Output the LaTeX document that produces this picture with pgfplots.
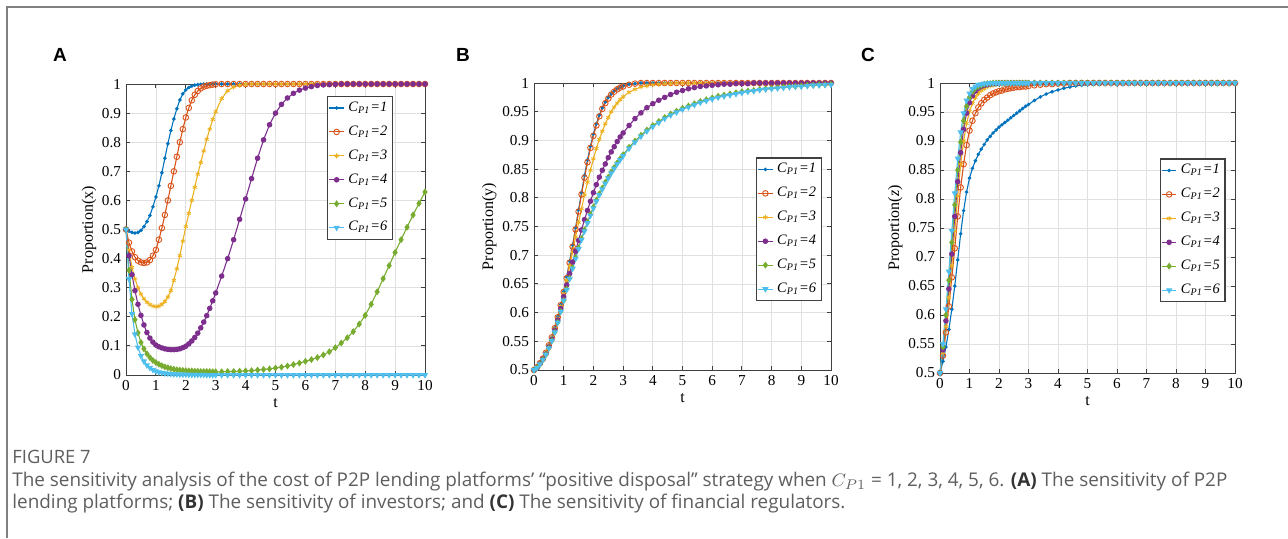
\documentclass[border=0pt]{standalone}
\usepackage{pgfplots}
\usepackage{pgfplotstable}
\pgfplotsset{compat=1.18}
\usepackage{fontspec}
\setmainfont{Liberation Serif}
\newfontfamily\capfont{Open Sans}
\newfontfamily\panelfont{Liberation Sans}

\definecolor{mblue}{rgb}{0,0.447,0.741}
\definecolor{morange}{rgb}{0.85,0.325,0.098}
\definecolor{myellow}{rgb}{0.929,0.694,0.125}
\definecolor{mpurple}{rgb}{0.494,0.184,0.556}
\definecolor{mgreen}{rgb}{0.466,0.674,0.188}
\definecolor{mcyan}{rgb}{0.301,0.745,0.933}
\definecolor{captext}{HTML}{5E5E5E}

% Proportion x of P2P platforms choosing positive disposal
\pgfplotstableread{
t a1 a2 a3 a4 a5 a6
0.0 0.5 0.5 0.5 0.5 0.5 0.5
0.1 0.494 0.455 0.43 0.41 0.36 0.33
0.2 0.49 0.425 0.37 0.345 0.26 0.21
0.3 0.488 0.405 0.33 0.29 0.19 0.14
0.4 0.49 0.393 0.30 0.243 0.145 0.095
0.5 0.497 0.387 0.278 0.205 0.112 0.066
0.6 0.51 0.385 0.262 0.172 0.09 0.047
0.7 0.527 0.387 0.25 0.146 0.073 0.034
0.8 0.548 0.395 0.242 0.127 0.06 0.025
0.9 0.578 0.41 0.237 0.113 0.05 0.018
1.0 0.612 0.43 0.235 0.103 0.043 0.013
1.1 0.65 0.465 0.237 0.097 0.037 0.010
1.2 0.695 0.505 0.243 0.093 0.032 0.008
1.3 0.745 0.55 0.253 0.09 0.028 0.006
1.4 0.795 0.6 0.268 0.088 0.025 0.005
1.5 0.84 0.65 0.29 0.087 0.022 0.004
1.6 0.88 0.70 0.325 0.087 0.02 0.003
1.7 0.915 0.75 0.365 0.088 0.018 0.003
1.8 0.945 0.80 0.41 0.09 0.017 0.002
1.9 0.966 0.845 0.46 0.094 0.016 0.002
2.0 0.98 0.885 0.51 0.099 0.015 0.002
2.1 0.988 0.918 0.555 0.107 0.014 0.001
2.2 0.993 0.944 0.6 0.117 0.014 0.001
2.3 0.996 0.963 0.645 0.129 0.013 0.001
2.4 0.998 0.976 0.69 0.144 0.013 0.001
2.5 0.999 0.985 0.73 0.162 0.012 0.001
2.6 1 0.991 0.77 0.182 0.012 0.001
2.7 1 0.994 0.81 0.204 0.012 0
2.8 1 0.996 0.845 0.229 0.012 0
2.9 1 0.998 0.878 0.255 0.011 0
3.0 1 0.999 0.905 0.282 0.011 0
3.2 1 1 0.95 0.34 0.011 0
3.4 1 1 0.977 0.40 0.012 0
3.6 1 1 0.99 0.465 0.012 0
3.8 1 1 0.996 0.535 0.013 0
4.0 1 1 0.999 0.605 0.014 0
4.2 1 1 1 0.675 0.015 0
4.4 1 1 1 0.745 0.017 0
4.6 1 1 1 0.808 0.019 0
4.8 1 1 1 0.86 0.021 0
5.0 1 1 1 0.9 0.024 0
5.2 1 1 1 0.93 0.027 0
5.4 1 1 1 0.952 0.031 0
5.6 1 1 1 0.968 0.036 0
5.8 1 1 1 0.979 0.041 0
6.0 1 1 1 0.986 0.047 0
6.2 1 1 1 0.991 0.053 0
6.4 1 1 1 0.995 0.06 0
6.6 1 1 1 0.997 0.069 0
6.8 1 1 1 0.998 0.08 0
7.0 1 1 1 0.999 0.094 0
7.2 1 1 1 1 0.11 0
7.4 1 1 1 1 0.128 0
7.6 1 1 1 1 0.149 0
7.8 1 1 1 1 0.175 0
8.0 1 1 1 1 0.205 0
8.2 1 1 1 1 0.243 0
8.4 1 1 1 1 0.286 0
8.6 1 1 1 1 0.331 0
8.8 1 1 1 1 0.376 0
9.0 1 1 1 1 0.421 0
9.2 1 1 1 1 0.465 0
9.4 1 1 1 1 0.508 0
9.6 1 1 1 1 0.55 0
9.8 1 1 1 1 0.59 0
10.0 1 1 1 1 0.629 0
}\tabA

% Proportion y of investors
\pgfplotstableread{
t a1 a2 a3 a4 a5 a6
0.0 0.5 0.5 0.5 0.5 0.5 0.5
0.1 0.505 0.505 0.505 0.504 0.504 0.504
0.2 0.512 0.512 0.512 0.511 0.51 0.51
0.3 0.52 0.52 0.52 0.519 0.518 0.518
0.4 0.53 0.53 0.53 0.528 0.527 0.527
0.5 0.543 0.543 0.542 0.54 0.538 0.538
0.6 0.557 0.557 0.556 0.553 0.551 0.551
0.7 0.574 0.573 0.572 0.569 0.566 0.566
0.8 0.593 0.592 0.59 0.587 0.583 0.583
0.9 0.614 0.613 0.611 0.607 0.602 0.602
1.0 0.637 0.636 0.633 0.628 0.621 0.621
1.1 0.662 0.66 0.656 0.648 0.641 0.64
1.2 0.69 0.687 0.681 0.668 0.66 0.659
1.3 0.718 0.715 0.706 0.688 0.678 0.677
1.4 0.748 0.745 0.732 0.707 0.696 0.694
1.5 0.779 0.776 0.757 0.726 0.713 0.711
1.6 0.809 0.806 0.781 0.744 0.729 0.727
1.7 0.839 0.835 0.805 0.762 0.744 0.742
1.8 0.866 0.862 0.827 0.778 0.758 0.756
1.9 0.89 0.887 0.848 0.794 0.771 0.769
2.0 0.911 0.908 0.868 0.809 0.784 0.782
2.1 0.929 0.926 0.886 0.823 0.796 0.794
2.2 0.944 0.942 0.902 0.836 0.807 0.805
2.3 0.957 0.955 0.916 0.848 0.817 0.815
2.4 0.967 0.965 0.929 0.859 0.827 0.825
2.5 0.975 0.973 0.94 0.87 0.836 0.834
2.6 0.981 0.98 0.95 0.88 0.845 0.843
2.7 0.986 0.985 0.958 0.889 0.853 0.851
2.8 0.99 0.989 0.965 0.898 0.861 0.859
2.9 0.993 0.992 0.971 0.906 0.868 0.866
3.0 0.995 0.994 0.976 0.913 0.875 0.873
3.2 0.998 0.997 0.984 0.926 0.888 0.886
3.4 0.999 0.999 0.989 0.938 0.899 0.897
3.6 1 1 0.993 0.948 0.909 0.907
3.8 1 1 0.995 0.957 0.918 0.916
4.0 1 1 0.997 0.964 0.926 0.924
4.2 1 1 0.998 0.97 0.933 0.931
4.4 1 1 0.999 0.975 0.94 0.938
4.6 1 1 0.999 0.98 0.946 0.944
4.8 1 1 1 0.984 0.951 0.949
5.0 1 1 1 0.987 0.956 0.954
5.2 1 1 1 0.99 0.96 0.958
5.4 1 1 1 0.992 0.964 0.962
5.6 1 1 1 0.994 0.968 0.966
5.8 1 1 1 0.995 0.971 0.969
6.0 1 1 1 0.996 0.974 0.972
6.2 1 1 1 0.997 0.977 0.975
6.4 1 1 1 0.998 0.979 0.977
6.6 1 1 1 0.998 0.981 0.979
6.8 1 1 1 0.999 0.983 0.981
7.0 1 1 1 0.999 0.985 0.983
7.2 1 1 1 0.999 0.986 0.985
7.4 1 1 1 1 0.987 0.986
7.6 1 1 1 1 0.989 0.988
7.8 1 1 1 1 0.99 0.989
8.0 1 1 1 1 0.991 0.99
8.2 1 1 1 1 0.992 0.991
8.4 1 1 1 1 0.993 0.992
8.6 1 1 1 1 0.994 0.993
8.8 1 1 1 1 0.994 0.994
9.0 1 1 1 1 0.995 0.994
9.2 1 1 1 1 0.996 0.995
9.4 1 1 1 1 0.996 0.996
9.6 1 1 1 1 0.997 0.996
9.8 1 1 1 1 0.997 0.997
10.0 1 1 1 1 0.998 0.997
}\tabB

% Proportion z of financial regulators
\pgfplotstableread{
t a1 a2 a3 a4 a5 a6
0.0 0.5 0.5 0.5 0.5 0.5 0.5
0.1 0.52 0.53 0.535 0.54 0.545 0.55
0.2 0.545 0.57 0.58 0.59 0.6 0.61
0.3 0.575 0.615 0.63 0.645 0.66 0.675
0.4 0.61 0.665 0.685 0.705 0.725 0.745
0.5 0.65 0.715 0.745 0.77 0.79 0.81
0.6 0.695 0.77 0.805 0.83 0.85 0.87
0.7 0.74 0.82 0.86 0.88 0.898 0.915
0.8 0.78 0.86 0.9 0.92 0.935 0.948
0.9 0.812 0.893 0.93 0.948 0.96 0.97
1.0 0.836 0.918 0.951 0.966 0.975 0.982
1.1 0.853 0.935 0.965 0.978 0.985 0.99
1.2 0.866 0.948 0.975 0.986 0.991 0.994
1.3 0.877 0.958 0.982 0.991 0.994 0.997
1.4 0.886 0.965 0.987 0.994 0.996 0.998
1.5 0.894 0.971 0.99 0.996 0.998 0.999
1.6 0.902 0.975 0.993 0.997 0.999 0.999
1.7 0.908 0.979 0.995 0.998 0.999 1
1.8 0.914 0.982 0.996 0.999 1 1
1.9 0.919 0.984 0.997 0.999 1 1
2.0 0.924 0.986 0.998 1 1 1
2.1 0.928 0.987 0.998 1 1 1
2.2 0.932 0.989 0.999 1 1 1
2.3 0.936 0.99 0.999 1 1 1
2.4 0.94 0.991 0.999 1 1 1
2.5 0.944 0.992 1 1 1 1
2.6 0.948 0.993 1 1 1 1
2.7 0.952 0.993 1 1 1 1
2.8 0.956 0.994 1 1 1 1
2.9 0.96 0.994 1 1 1 1
3.0 0.963 0.995 1 1 1 1
3.2 0.97 0.996 1 1 1 1
3.4 0.976 0.997 1 1 1 1
3.6 0.981 0.998 1 1 1 1
3.8 0.985 0.998 1 1 1 1
4.0 0.988 0.999 1 1 1 1
4.2 0.991 0.999 1 1 1 1
4.4 0.993 1 1 1 1 1
4.6 0.995 1 1 1 1 1
4.8 0.996 1 1 1 1 1
5.0 0.997 1 1 1 1 1
5.2 0.998 1 1 1 1 1
5.4 0.998 1 1 1 1 1
5.6 0.999 1 1 1 1 1
5.8 0.999 1 1 1 1 1
6.0 1 1 1 1 1 1
6.2 1 1 1 1 1 1
6.4 1 1 1 1 1 1
6.6 1 1 1 1 1 1
6.8 1 1 1 1 1 1
7.0 1 1 1 1 1 1
7.2 1 1 1 1 1 1
7.4 1 1 1 1 1 1
7.6 1 1 1 1 1 1
7.8 1 1 1 1 1 1
8.0 1 1 1 1 1 1
8.2 1 1 1 1 1 1
8.4 1 1 1 1 1 1
8.6 1 1 1 1 1 1
8.8 1 1 1 1 1 1
9.0 1 1 1 1 1 1
9.2 1 1 1 1 1 1
9.4 1 1 1 1 1 1
9.6 1 1 1 1 1 1
9.8 1 1 1 1 1 1
10.0 1 1 1 1 1 1
}\tabC

\newcommand{\cp}[1]{\textit{C}\textsubscript{\textit{P1}}\textit{=#1}}

\pgfplotsset{
  panel/.style={
    scale only axis, clip=false,
    xmin=0, xmax=10, xtick={0,1,...,10},
    grid=major, major grid style={black!12, line width=0.4pt},
    axis line style={black!75, line width=0.45pt},
    tick align=inside, major tick length=2.2pt,
    every tick/.style={black!75, line width=0.45pt},
    tick label style={font=\fontsize{7.6}{8}\selectfont, /pgf/number format/assume math mode=true},
    label style={font=\fontsize{8}{9}\selectfont},
    xlabel={t},
    xlabel style={yshift=3pt},
    ylabel style={yshift=-4pt},
    xticklabel style={yshift=1pt},
    yticklabel style={xshift=1pt},
    legend cell align=left,
    legend style={font=\fontsize{7.2}{8}\selectfont, draw=black!75, line width=0.6pt,
      inner sep=0.6pt, row sep=1.7pt, anchor=north east, /tikz/every even column/.append style={column sep=0pt}},
    legend image code/.code={\draw[mark repeat=2,mark phase=2,##1] plot coordinates {(0pt,0pt) (3.6pt,0pt) (7.2pt,0pt)};},
    every axis plot/.append style={line width=0.55pt},
  },
  s1/.style={color=mblue, mark=*, mark size=0.6pt},
  s2/.style={color=morange, mark=o, mark size=1.4pt, mark options={line width=0.45pt}},
  s3/.style={color=myellow, mark=asterisk, mark size=1.2pt, mark options={line width=0.4pt}},
  s4/.style={color=mpurple, mark=*, mark size=1.1pt},
  s5/.style={color=mgreen, mark=diamond*, mark size=1.3pt},
  s6/.style={color=mcyan, mark=triangle*, mark size=1.3pt, mark options={rotate=180}},
}

\begin{document}
\begin{tikzpicture}
\path[use as bounding box] (0pt,0pt) rectangle (644pt,-269pt);
\draw[black!50, line width=0.8pt] (3.6pt,-269pt) -- (3.6pt,-3.4pt) -- (644pt,-3.4pt);

\node[font=\panelfont\bfseries\fontsize{9.5}{10}\selectfont] at (30pt,-27.5pt) {A};
\node[font=\panelfont\bfseries\fontsize{9.5}{10}\selectfont] at (231.5pt,-27.5pt) {B};
\node[font=\panelfont\bfseries\fontsize{9.5}{10}\selectfont] at (434pt,-27.5pt) {C};

% Panel A
\begin{axis}[panel, at={(63pt,-187.5pt)}, anchor=south west,
  width=149.5pt, height=145.5pt,
  ymin=0, ymax=1, ytick={0,0.1,...,1},
  yticklabels={0,0.1,0.2,0.3,0.4,0.5,0.6,0.7,0.8,0.9,1},
  ylabel={Proportion(x)},
  legend style={at={(0.893,0.959)}}]
\addplot[s1] table[x=t,y=a1] {\tabA}; \addlegendentry{\cp{1}}
\addplot[s2] table[x=t,y=a2] {\tabA}; \addlegendentry{\cp{2}}
\addplot[s3] table[x=t,y=a3] {\tabA}; \addlegendentry{\cp{3}}
\addplot[s4] table[x=t,y=a4] {\tabA}; \addlegendentry{\cp{4}}
\addplot[s5] table[x=t,y=a5] {\tabA}; \addlegendentry{\cp{5}}
\addplot[s6] table[x=t,y=a6] {\tabA}; \addlegendentry{\cp{6}}
\end{axis}

% Panel B
\begin{axis}[panel, at={(267pt,-185pt)}, anchor=south west,
  width=148.5pt, height=143.5pt,
  ymin=0.5, ymax=1, ytick={0.5,0.55,...,1.01},
  yticklabels={0.5,0.55,0.6,0.65,0.7,0.75,0.8,0.85,0.9,0.95,1},
  ylabel={Proportion(y)},
  legend style={at={(0.969,0.741)}}]
\addplot[s1] table[x=t,y=a1] {\tabB}; \addlegendentry{\cp{1}}
\addplot[s2] table[x=t,y=a2] {\tabB}; \addlegendentry{\cp{2}}
\addplot[s3] table[x=t,y=a3] {\tabB}; \addlegendentry{\cp{3}}
\addplot[s4] table[x=t,y=a4] {\tabB}; \addlegendentry{\cp{4}}
\addplot[s5] table[x=t,y=a5] {\tabB}; \addlegendentry{\cp{5}}
\addplot[s6] table[x=t,y=a6] {\tabB}; \addlegendentry{\cp{6}}
\end{axis}

% Panel C
\begin{axis}[panel, at={(470pt,-186.5pt)}, anchor=south west,
  width=147.5pt, height=145pt,
  ymin=0.5, ymax=1, ytick={0.5,0.55,...,1.01},
  yticklabels={0.5,0.55,0.6,0.65,0.7,0.75,0.8,0.85,0.9,0.95,1},
  ylabel={Proportion(\textit{z})},
  legend style={at={(0.968,0.740)}}]
\addplot[s1] table[x=t,y=a1] {\tabC}; \addlegendentry{\cp{1}}
\addplot[s2] table[x=t,y=a2] {\tabC}; \addlegendentry{\cp{2}}
\addplot[s3] table[x=t,y=a3] {\tabC}; \addlegendentry{\cp{3}}
\addplot[s4] table[x=t,y=a4] {\tabC}; \addlegendentry{\cp{4}}
\addplot[s5] table[x=t,y=a5] {\tabC}; \addlegendentry{\cp{5}}
\addplot[s6] table[x=t,y=a6] {\tabC}; \addlegendentry{\cp{6}}
\end{axis}

% Caption
\node[anchor=base west, inner sep=0pt, text=captext, font=\capfont\fontsize{9.2}{10}\selectfont] at (6pt,-231.5pt) {FIGURE 7};
\node[anchor=base west, inner sep=0pt, text=captext, font=\capfont\fontsize{9.45}{11}\selectfont] at (6pt,-243pt)
  {The sensitivity analysis of the cost of P2P lending platforms’ “positive disposal” strategy when $C_{P1}$ = 1,\ 2,\ 3,\ 4,\ 5,\ 6. {\bfseries\color{black!80}(A)} The sensitivity of P2P};
\node[anchor=base west, inner sep=0pt, text=captext, font=\capfont\fontsize{9.45}{11}\selectfont] at (6pt,-254pt)
  {lending platforms; {\bfseries\color{black!80}(B)} The sensitivity of investors; and {\bfseries\color{black!80}(C)} The sensitivity of financial regulators.};
\end{tikzpicture}
\end{document}
